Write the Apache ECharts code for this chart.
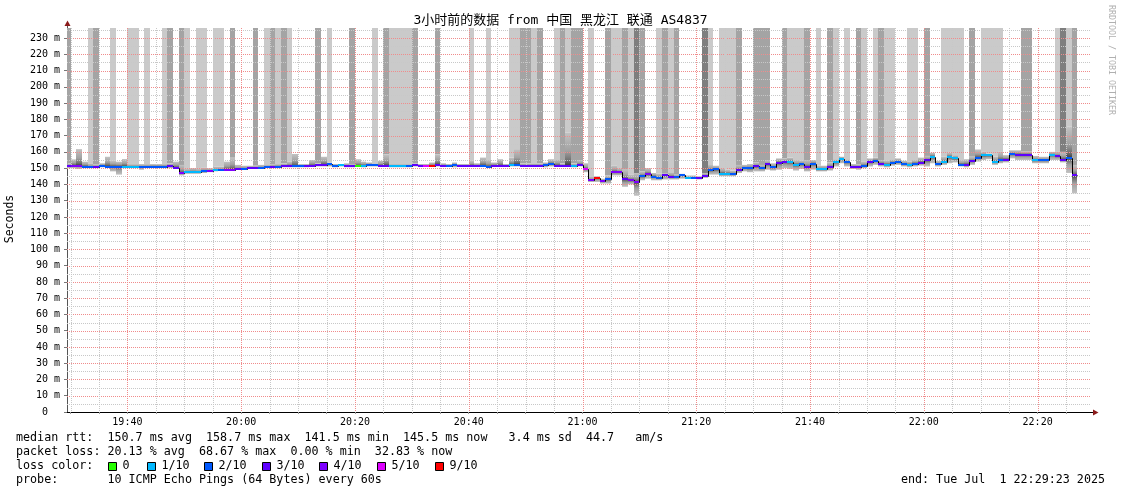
<!DOCTYPE html>
<html><head><meta charset="utf-8">
<script src="https://cdn.jsdelivr.net/npm/echarts@6/dist/echarts.min.js"></script>
<style>html,body{margin:0;padding:0;background:#fff}#chart{width:1121px;height:494px}</style>
</head><body><div id="chart"></div>
<script>
// ---- time axis: minutes after 19:00 ----
const viewStart = 29 + 23 / 60;   // 19:29:23
const viewEnd = 209 + 23 / 60;    // 22:29:23
const firstStepMinute = 29;       // first 60 s step: 19:29 - 19:30
const yMax = 236.2;

const timeTickValues = [40, 60, 80, 100, 120, 140, 160, 180, 200];
const timeTickLabels = ['19:40', '20:00', '20:20', '20:40', '21:00', '21:20', '21:40', '22:00', '22:20'];
const yTickValues = [0, 10, 20, 30, 40, 50, 60, 70, 80, 90, 100, 110, 120, 130, 140, 150, 160, 170, 180, 190, 200, 210, 220, 230];
const yTickLabels = ['0  ', '10 m', '20 m', '30 m', '40 m', '50 m', '60 m', '70 m', '80 m', '90 m', '100 m', '110 m', '120 m', '130 m', '140 m', '150 m', '160 m', '170 m', '180 m', '190 m', '200 m', '210 m', '220 m', '230 m'];

// median rtt (ms) per 60 s step
const median = [151.2,151.5,151.5,151.0,150.5,150.5,151.5,151.0,151.0,151.0,
 151.0,150.8,150.8,150.5,150.8,151.0,151.0,151.0,151.3,150.3,
 147.0,147.5,147.5,147.5,148.0,148.2,148.6,148.8,149.0,149.0,
 149.2,149.5,149.9,149.9,150.1,150.5,150.8,151.0,151.3,151.3,
 151.2,151.2,151.2,151.5,152.0,152.1,152.3,151.5,151.9,151.1,
 151.5,151.4,151.5,151.9,151.9,151.5,151.5,151.2,151.2,151.2,
 151.2,151.9,151.6,151.5,151.5,152.1,151.5,151.5,151.9,151.5,
 151.5,151.5,151.5,151.5,150.9,151.5,151.5,151.5,151.9,152.1,
 151.5,151.5,151.5,151.5,151.9,152.5,151.5,151.5,151.5,151.2,
 151.9,149.3,142.4,143.8,142.1,143.1,147.5,147.5,143.1,142.5,
 141.5,145.0,146.3,144.8,144.0,145.5,144.5,144.5,145.5,143.9,
 144.2,143.9,145.3,148.8,149.2,146.6,146.6,146.4,148.9,150.1,
 149.9,151.2,150.0,152.5,150.4,153.3,153.9,153.9,152.0,152.6,
 150.6,152.6,149.2,149.2,150.6,153.8,155.7,153.8,150.7,150.7,
 151.4,153.8,154.6,152.7,152.2,153.2,153.7,152.3,152.2,152.8,
 153.4,154.9,157.0,152.6,153.9,156.9,156.0,152.2,152.2,154.4,
 156.4,157.8,157.8,153.9,154.9,155.3,158.7,158.3,158.3,158.3,
 154.8,154.8,154.8,158.1,157.4,155.3,156.3,145.5];

// lost pings out of 10 per step
const lossTenths = [3,4,4,2,2,3,2,2,2,2,
 1,1,1,2,2,2,2,2,3,3,
 4,1,1,1,2,4,1,2,4,4,
 3,2,3,3,2,2,3,2,3,3,
 2,2,3,3,3,3,2,2,1,3,
 3,0,1,2,2,3,3,1,1,1,
 2,3,3,5,9,3,3,2,2,3,
 3,3,3,2,2,3,3,3,1,2,
 3,3,3,3,2,2,3,3,3,1,
 3,5,4,9,4,2,4,4,3,4,
 4,2,4,2,2,3,3,2,2,1,
 2,3,3,2,2,1,1,2,3,2,
 2,3,2,3,2,3,3,1,1,2,
 3,2,1,1,3,1,1,2,3,3,
 2,3,2,3,1,2,2,2,1,2,
 3,3,1,2,1,1,1,2,3,3,
 2,1,1,1,2,3,2,3,3,3,
 1,2,2,1,3,3,2,3];

// lowest / highest ping drawn in range (ms)
const smokeLo = [150,150,149.5,150,150,150,150.5,150.5,148,146,
 150,150,150,149,150,150,150,150,150,149.5,
 145.5,146.5,146.5,146.5,147,147.5,148,148.5,148.5,148.5,
 149,149,149.5,149.5,149.5,150,150,150,150.5,150.5,
 150.5,150.5,150.5,151,151,151,151,150.5,151,150.5,
 150.5,151,150.5,151,151,151,151,150.5,150.5,150.5,
 150.5,151,151,151,151,151,151,151,150.5,151,
 151,151,151,151,150.5,151,151,151,151,151,
 151,151,151,151,150.5,151,151,151,151,150.5,
 151,147.5,141.5,141.5,140.5,140.5,145.5,145.5,138.5,140,
 133,142.5,143.5,142.5,142.5,143,143,143,143.5,143.5,
 143.5,143,144,146,146,145,145,145,147,148,
 147.5,148,148,149,148.5,149,150,149.5,148.5,149.5,
 148,149,148,148,148.5,151,153,151,149.5,149,
 150,151,152,151,150.5,151.5,152,151,150.5,151,
 151.5,151,153,151,152,153,153.5,151,150.5,152,
 154,155,155.5,152,153,153.5,156,155,155,155,
 153,153,153,155,155,153.5,147,134.5];
const smokeHi = [153,155.4,161.7,154,153,152.5,153,157,154.5,154,
 155.6,152.5,152.5,152.5,152.5,152.5,152.5,152.5,153,154,
 152,149.5,150,149.5,150.5,150,151,151,154,156.4,
 152,151.5,151.5,151.5,152,152,152.5,152.5,153,154,
 158.7,152.5,152.5,155,153,157,153.5,152.5,152.5,153,
 152.5,155.5,154,153.5,153,154.5,158.5,152.5,152.5,152.5,
 152.5,153,152.5,152.5,153.5,158.5,153,152.5,153.5,152.5,
 152.5,154.5,153,156.5,155,153.5,155.5,152.5,156.5,161.7,
 153,153,153,153,153.5,155.5,155.5,153,171.8,153,
 155,153,145,145,143.5,145.5,151.5,150,149,146,
 147,148,150,147,146.5,146.5,147.5,146,146.5,145.5,
 145.5,145,147,152,151.5,150,149,148.5,152,152,
 152.5,153.5,152,154.5,153,156,156,156.5,155,154.5,
 155,155,151.5,151.5,153.5,155.5,157,155.5,152.5,152.5,
 154,156,156.5,155,154.5,155.5,156,154.5,154,155,
 156.5,157.5,159.5,154.5,157,159.5,158,155,155.5,157,
 161.5,160,159,157,160,158,161,161,160.5,160.5,
 157.5,157,157,160,160,160,175.5,152];

// pings above the graph top per step (drawn to the top)
const pingsOverTop = [2,0,0,0,1,2,0,0,1,0,
 0,1,1,0,1,0,0,1,2,0,
 2,1,0,1,1,0,1,1,0,2,
 0,0,0,2,0,1,2,1,2,1,
 0,0,0,0,2,0,1,0,0,0,
 2,0,0,0,1,0,2,1,1,1,
 1,2,0,0,0,2,0,0,0,0,
 0,1,0,0,1,0,0,0,1,1,
 2,2,1,2,0,0,1,2,1,2,
 2,0,1,0,0,2,1,1,2,1,
 3,2,0,0,1,2,1,2,0,0,
 0,0,3,1,0,1,1,1,2,0,
 0,2,2,2,0,0,2,1,1,1,
 2,0,1,0,2,1,0,1,0,2,
 1,0,1,2,1,1,0,0,1,1,
 0,2,0,0,1,1,1,1,0,2,
 0,1,1,1,1,0,0,0,2,2,
 0,0,0,0,1,3,1,2];

const statLines = [
  'median rtt:  150.7 ms avg  158.7 ms max  141.5 ms min  145.5 ms now   3.4 ms sd  44.7   am/s',
  'packet loss: 20.13 % avg  68.67 % max  0.00 % min  32.83 % now',
  'loss color:',
  'probe:       10 ICMP Echo Pings (64 Bytes) every 60s'
];
const lossLegendLabels = ['0', '1/10', '2/10', '3/10', '4/10', '5/10', '9/10'];
const lossLegendColors = ['#26ff00', '#00b8ff', '#0059ff', '#5e00ff', '#7e00ff', '#dd00ff', '#ff0000'];
const titleText = '3小时前的数据 from 中国 黑龙江 联通 AS4837';
const endText = 'end: Tue Jul  1 22:29:23 2025';

// ---- styling ----
const MONO = "'DejaVu Sans Mono', monospace";
const overColors = ['', '#cacaca', '#a4a4a4', '#7e7e7e'];
function lossColor(k) {
  if (k >= 9) return '#ff0000';
  if (k >= 5) return '#dd00ff';
  return ['#26ff00', '#00b8ff', '#0059ff', '#5e00ff', '#7e00ff'][k];
}
const MAJOR_GRID = '#f08c8c';
const MINOR_GRID = '#c8c8c8';

const columns = median.map((m, j) => [firstStepMinute + j, firstStepMinute + j + 1,
  smokeLo[j], smokeHi[j], m, pingsOverTop[j], lossTenths[j], j > 0 ? median[j - 1] : m]);

const yGridValues = [];
for (let v = 5; v < yMax; v += 5) yGridValues.push(v);
const xGridValues = [];
for (let m = 30; m < viewEnd; m += 5) xGridValues.push(m);

function colX(params, api) {
  const cs = params.coordSys;
  let x0 = Math.round(api.coord([api.value(0), 0])[0]);
  let x1 = Math.round(api.coord([api.value(1), 0])[0]);
  x0 = Math.max(x0, Math.round(cs.x));
  x1 = Math.min(x1, Math.round(cs.x + cs.width));
  return [x0, x1];
}

function renderSmoke(params, api) {
  const [x0, x1] = colX(params, api);
  if (x1 <= x0) return null;
  const t = api.value(0);
  const lo = api.value(2), hi = api.value(3), med = api.value(4), over = api.value(5);
  const yLo = api.coord([t, lo])[1], yHi = api.coord([t, hi])[1];
  const yMed = api.coord([t, med])[1], yTop = api.coord([t, yMax])[1];
  const kids = [];
  if (over > 0) {
    kids.push({ type: 'rect', shape: { x: x0, y: yTop, width: x1 - x0, height: yHi - yTop },
      style: { fill: overColors[over] } });
  }
  const f = Math.min(1, Math.max(0, (yMed - yHi) / (yLo - yHi)));
  const g = 1 - f;
  kids.push({ type: 'rect', shape: { x: x0, y: yHi, width: x1 - x0, height: yLo - yHi },
    style: { fill: new echarts.graphic.LinearGradient(0, 0, 0, 1, [
      { offset: 0, color: '#c2c2c2' },
      { offset: f * 0.55, color: '#a2a2a2' },
      { offset: f * 0.85, color: '#6e6e6e' },
      { offset: f, color: '#3c3c3c' },
      { offset: f + g * 0.15, color: '#6e6e6e' },
      { offset: f + g * 0.45, color: '#a2a2a2' },
      { offset: 1, color: '#c2c2c2' }]) } });
  return { type: 'group', children: kids };
}

function renderMedianLine(params, api) {
  const [x0, x1] = colX(params, api);
  if (x1 <= x0) return null;
  const t = api.value(0);
  const y = Math.round(api.coord([t, api.value(4)])[1]) + 0.5;
  const yp = Math.round(api.coord([t, api.value(7)])[1]) + 0.5;
  return { type: 'polyline', shape: { points: [[x0 + 0.5, yp], [x0 + 0.5, y], [x1 + 0.5, y]] },
    style: { stroke: '#000', lineWidth: 1, fill: null } };
}

function renderMedianBand(params, api) {
  const [x0, x1] = colX(params, api);
  if (x1 <= x0) return null;
  const t = api.value(0);
  const y = Math.round(api.coord([t, api.value(4)])[1]);
  return { type: 'rect', shape: { x: x0, y: y - 1, width: x1 - x0, height: 2 },
    style: { fill: lossColor(api.value(6)) } };
}

function renderGrid(params, api) {
  const cs = params.coordSys;
  const L = cs.x, R = cs.x + cs.width, T = cs.y, B = cs.y + cs.height;
  const kids = [];
  yGridValues.forEach(v => {
    const y = Math.round(api.coord([viewStart, v])[1]) + 0.5;
    kids.push({ type: 'line', shape: { x1: L, y1: y, x2: R, y2: y },
      style: { stroke: v % 10 === 0 ? MAJOR_GRID : MINOR_GRID, lineWidth: 1, lineDash: [1, 1] } });
  });
  xGridValues.forEach(m => {
    const x = Math.round(api.coord([m, 0])[0]) + 0.5;
    kids.push({ type: 'line', shape: { x1: x, y1: T, x2: x, y2: B },
      style: { stroke: m % 20 === 0 ? MAJOR_GRID : MINOR_GRID, lineWidth: 1, lineDash: [1, 1] } });
  });
  return { type: 'group', children: kids, silent: true };
}

// ---- legend / decoration graphics ----
const graphics = [];
graphics.push({ type: 'text', x: 560.5, y: 21, style: { text: titleText,
  font: "13px 'DejaVu Sans Mono', 'Noto Sans CJK SC'", fill: '#000', align: 'center', verticalAlign: 'middle' } });
graphics.push({ type: 'text', x: 10.5, y: 219, rotation: Math.PI / 2, style: { text: 'Seconds',
  font: '11.5px ' + MONO, fill: '#000', align: 'center', verticalAlign: 'middle' } });
graphics.push({ type: 'text', x: 1111, y: 60, rotation: -Math.PI / 2, style: { text: 'RRDTOOL / TOBI OETIKER',
  font: '8.3px ' + MONO, fill: '#b0b0b0', align: 'center', verticalAlign: 'middle' } });
const lineY = [438, 452, 466, 480];
statLines.forEach((s, i) => graphics.push({ type: 'text', x: 16, y: lineY[i], style: { text: s,
  font: '11.7px ' + MONO, fill: '#000', align: 'left', verticalAlign: 'middle' } }));
graphics.push({ type: 'text', x: 1105, y: 480, style: { text: endText,
  font: '11.7px ' + MONO, fill: '#000', align: 'right', verticalAlign: 'middle' } });
const swatchX = [108, 147, 204, 262, 319, 377, 435];
lossLegendLabels.forEach((lab, i) => {
  graphics.push({ type: 'rect', shape: { x: swatchX[i] + 0.5, y: 462.5, width: 8, height: 8 },
    style: { fill: lossLegendColors[i], stroke: '#000', lineWidth: 1 } });
  graphics.push({ type: 'text', x: swatchX[i] + 14.5, y: 466, style: { text: lab,
    font: '11.7px ' + MONO, fill: '#000', align: 'left', verticalAlign: 'middle' } });
});
// axis extensions and arrows
graphics.push({ type: 'line', shape: { x1: 67.5, y1: 28, x2: 67.5, y2: 22 }, style: { stroke: '#555', lineWidth: 1 } });
graphics.push({ type: 'polygon', shape: { points: [[64.5, 26], [70.5, 26], [67.5, 20.5]] }, style: { fill: '#8b1b1b' } });
graphics.push({ type: 'line', shape: { x1: 1091, y1: 412.5, x2: 1094, y2: 412.5 }, style: { stroke: '#000', lineWidth: 1 } });
graphics.push({ type: 'polygon', shape: { points: [[1093, 409.5], [1093, 415.5], [1098.5, 412.5]] }, style: { fill: '#8b1b1b' } });

const chart = echarts.init(document.getElementById('chart'));
chart.setOption({
  animation: false,
  backgroundColor: '#fff',
  grid: { left: 67, right: 30, top: 28, bottom: 82, containLabel: false },
  xAxis: {
    type: 'value', min: viewStart, max: viewEnd,
    axisLine: { show: true, onZero: false, lineStyle: { color: '#000', width: 1 } },
    axisTick: { show: true, customValues: xGridValues, length: 2, lineStyle: { color: '#999' } },
    axisLabel: { show: true, customValues: timeTickValues, margin: 5, fontFamily: MONO, fontSize: 10, color: '#000',
      formatter: v => { const i = timeTickValues.indexOf(Math.round(v)); return i >= 0 ? timeTickLabels[i] : ''; } },
    splitLine: { show: false }
  },
  yAxis: {
    type: 'value', min: 0, max: yMax, interval: 10,
    axisLine: { show: true, lineStyle: { color: '#555', width: 1 } },
    axisTick: { show: true, customValues: yTickValues, length: 3, lineStyle: { color: '#777' } },
    axisLabel: { show: true, customValues: yTickValues, margin: 7, fontFamily: MONO, fontSize: 10, color: '#000',
      formatter: v => { const i = yTickValues.indexOf(Math.round(v)); return i >= 0 ? yTickLabels[i] : ''; } },
    splitLine: { show: false }
  },
  graphic: graphics,
  series: [
    { type: 'custom', name: 'smoke', z: 2, clip: true, renderItem: renderSmoke, data: columns, silent: true },
    { type: 'custom', name: 'grid', z: 3, clip: true, renderItem: renderGrid, data: [[viewStart, 0]], silent: true },
    { type: 'custom', name: 'median', z: 4, clip: true, renderItem: renderMedianLine, data: columns, silent: true },
    { type: 'custom', name: 'loss', z: 5, clip: true, renderItem: renderMedianBand, data: columns, silent: true }
  ]
});
</script></body></html>
